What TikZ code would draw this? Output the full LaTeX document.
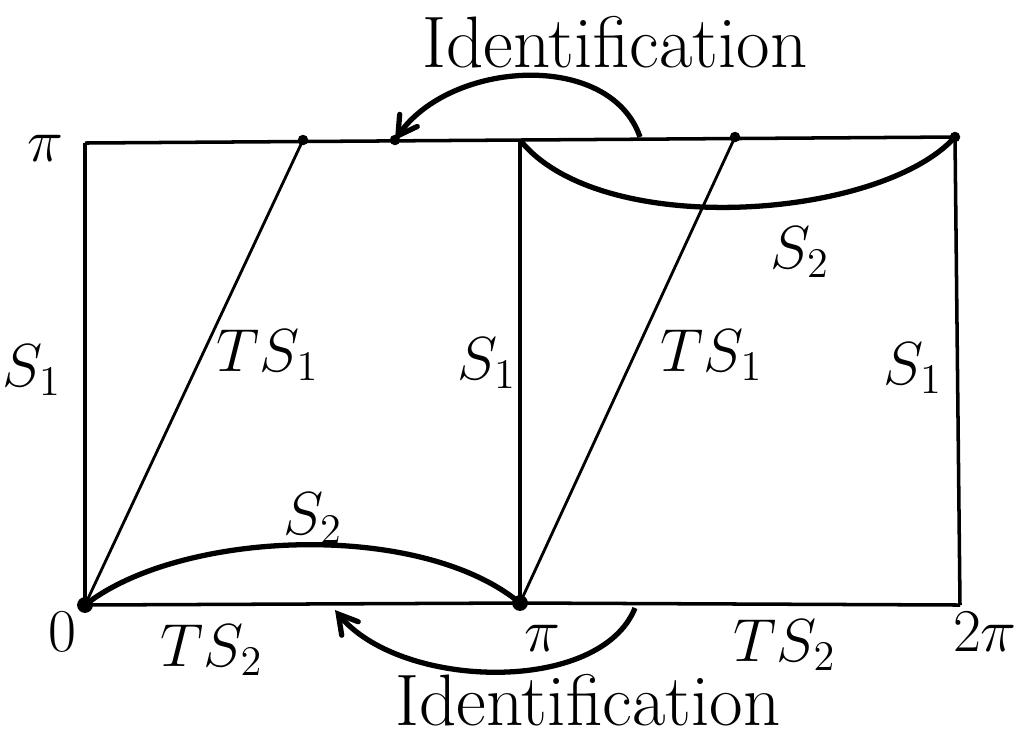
\documentclass[tikz,border=0pt]{standalone}
\usepackage{amsmath}
\usepackage{amssymb}
\usepackage{tikz}
\usetikzlibrary{calc}
\usetikzlibrary{arrows}
\tikzset{lbl/.style={font=\LARGE, inner sep=1}}
\tikzset{blob/.style={circle, fill=black, inner sep=0, minimum size=4.5pt}}

\begin{document}
\begin{tikzpicture} [x=0.01cm, y=-0.01cm]
\useasboundingbox (0,0) rectangle (1021,747);
\coordinate (tl) at (85,143);
\coordinate (tm) at (520,140);
\coordinate (tr) at (955,137);
\coordinate (bl) at (85,605);
\coordinate (bm) at (520,603);
\coordinate (br) at (960,605);
\coordinate (p1) at (303,140);
\coordinate (p2) at (735,137);
\coordinate (p3) at (395,140);
\draw[black,line width=1pt] (tl)--(tm)--(tr);
\draw[black,line width=1pt] (bl)--(bm)--(br);
\draw[black,line width=1pt] (tl)--(bl);
\draw[black,line width=1pt] (tm)--(bm);
\draw[black,line width=1pt] (tr)--(br);
\draw[black,line width=.8pt] (bl)--(p1);
\draw[black,line width=.8pt] (bm)--(p2);
\draw[black,line width=1.5pt] (bl) .. controls (180,530) and (420,520) .. (bm);
\draw[black,line width=1.5pt] (tm) .. controls (600,240) and (880,220) .. (tr);
\foreach \p in {p1,p2,p3,tr} {
 \filldraw[black] (\p) circle (4.5);
}
\node[blob] at (bl) {};
\node[blob] at (bm) {};
% identifications
\coordinate (ta) at (640,137);
\coordinate (ba) at (635,608);
\coordinate (bb) at (335,610);
\draw[black,line width=1.5pt,->,>=angle 60] (ta) .. controls (610,50) and (450,60) .. (p3);
\draw[black,line width=1.5pt,->,>=angle 60] (ba) .. controls (600,695) and (400,690) .. (bb);
\node[lbl,font=\huge] (idtop) at (615,42) {Identification};
\node[lbl,font=\huge] (idbot) at (588,700) {Identification};
% labels
\node[lbl] (pitop) at (45,148) {$\pi$};
\node[lbl] (sa) at (32,370) {$S_1$};
\node[lbl] (tsa) at (268,355) {$TS_1$};
\node[lbl] (sb) at (487,363) {$S_1$};
\node[lbl] (tsb) at (712,355) {$TS_1$};
\node[lbl] (sc) at (913,368) {$S_1$};
\node[lbl] (s2top) at (800,252) {$S_2$};
\node[lbl] (s2bot) at (313,518) {$S_2$};
\node[lbl] (zero) at (62,632) {$0$};
\node[lbl] (tsc) at (212,650) {$TS_2$};
\node[lbl] (pibot) at (542,638) {$\pi$};
\node[lbl] (tsd) at (785,645) {$TS_2$};
\node[lbl] (twopi) at (985,632) {$2\pi$};
\end{tikzpicture}
\end{document}
